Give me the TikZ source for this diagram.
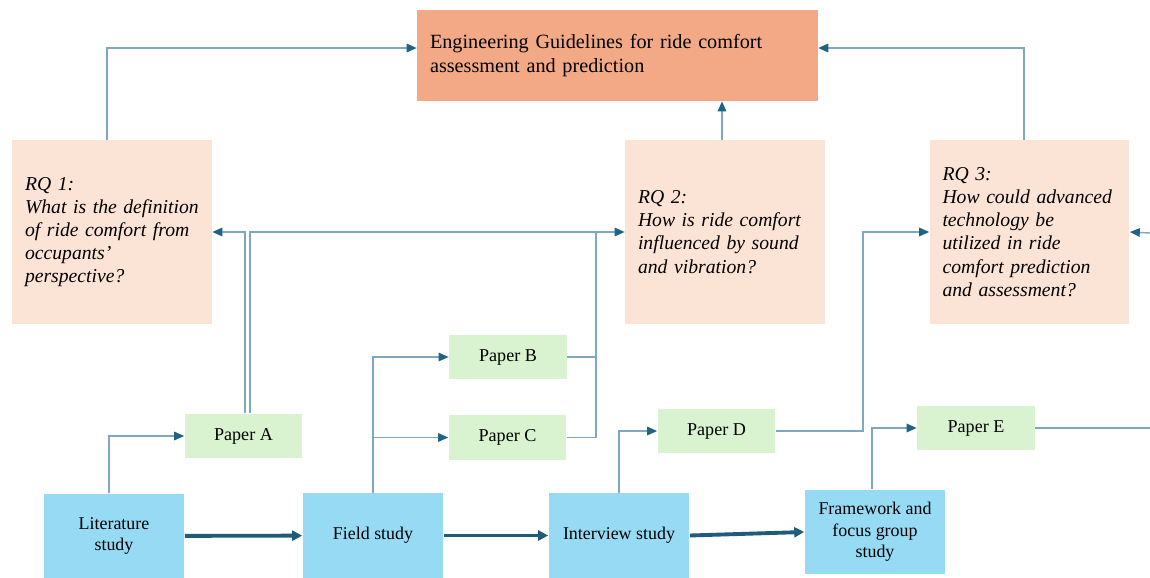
\documentclass[tikz,border=0pt]{standalone}
\usepackage{fontspec}
\setmainfont{Liberation Serif}
\usetikzlibrary{arrows.meta}
\definecolor{egfill}{RGB}{243,169,133}
\definecolor{rqfill}{RGB}{251,227,214}
\definecolor{paperfill}{RGB}{217,242,208}
\definecolor{studyfill}{RGB}{150,218,244}
\definecolor{linec}{RGB}{125,168,192}
\definecolor{tipc}{RGB}{30,98,132}
\definecolor{flowc}{RGB}{31,92,124}
\tikzset{
  rqbox/.style={fill=rqfill, minimum width=4cm, minimum height=3.68cm, text width=3.48cm,
    inner xsep=0.26cm, align=left, font=\fontsize{11.2}{13.2}\selectfont\itshape},
  paper/.style={fill=paperfill, minimum width=2.36cm, minimum height=0.9cm,
    font=\fontsize{10.3}{12.2}\selectfont},
  study/.style={fill=studyfill, minimum width=2.82cm, minimum height=1.7cm, align=center,
    font=\fontsize{10.2}{12.2}\selectfont},
  link/.style={draw=linec, line width=0.8pt, -{Triangle[length=0.2cm,width=0.17cm,color=tipc]}},
  flow/.style={draw=flowc, line width=2.2pt, -{Triangle[length=0.2cm,width=0.2cm]}}
}
\begin{document}
\begin{tikzpicture}[x=0.02cm,y=-0.02cm]
  \useasboundingbox (0,0) rectangle (1150,578);
  % top goal
  \node[fill=egfill, minimum width=8.02cm, minimum height=1.82cm, text width=7.5cm,
    inner xsep=0.26cm, align=left, font=\fontsize{11.5}{13.6}\selectfont] (eg) at (617.5,55.5)
    {Engineering Guidelines for ride comfort\\assessment and prediction};
  % research questions
  \node[rqbox] (rq1) at (112,232) {RQ 1:\\What is the definition\\of ride comfort from\\occupants’\\perspective?};
  \node[rqbox] (rq2) at (725,232) {RQ 2:\\How is ride comfort\\influenced by sound\\and vibration?};
  \node[rqbox] (rq3) at (1029.5,232) {RQ 3:\\How could advanced\\technology be\\utilized in ride\\comfort prediction\\and assessment?};
  % papers
  \foreach \n/\x/\y in {A/243.5/436,B/508/357,C/507.5/437.5,D/716.5/431,E/976/428}
    \node[paper] (p\n) at (\x,\y) {Paper \n};
  % studies
  \node[study] (lit) at (114,536) {Literature\\study};
  \node[study] (field) at (373,535.5) {Field study};
  \node[study] (interview) at (619,535.5) {Interview study};
  \node[study] (frame) at (875,532) {Framework and\\focus group\\study};
  \coordinate (jbc) at (596,233);
  \coordinate (eout) at (1150,432);
  \coordinate (rin) at (1150,233);

  \draw[link] ([xshift=-0.1cm]rq1.north) |- ([yshift=0.15cm]eg.west);
  \draw[link] ([xshift=-0.06cm]rq2.north) -- ([xshift=-0.06cm]rq2.north |- eg.south);
  \draw[link] ([xshift=-0.11cm]rq3.north) |- ([yshift=0.15cm]eg.east);

  \draw[link] ([xshift=-0.1cm]lit.north) |- (pA.west);
  \draw[link] (field.north) |- (pB.west);
  \draw[link] (field.north) |- (pC.west);
  \draw[link] (interview.north) |- (pD.west);
  \draw[link] ([xshift=-0.06cm]frame.north) |- (pE.west);

  \draw[link] ([xshift=0.03cm]pA.north) |- (rq1.east);
  \draw[link] ([xshift=0.13cm]pA.north) |- (rq2.west);
  \draw[link,-] (pB.east) -- (pB.east -| jbc);
  \draw[link,-] (pC.east) -| (jbc);
  \draw[link] (pD.east) -- ++(87,0) |- (rq3.west);
  \draw[link,-] (pE.east) -- (pE.east -| eout);
  \draw[link] (rin) -- (rq3.east);

  \draw[flow] (lit) -- (field);
  \draw[flow] (field) -- (interview);
  \draw[flow] (interview.east) -- (frame.west);
\end{tikzpicture}
\end{document}
